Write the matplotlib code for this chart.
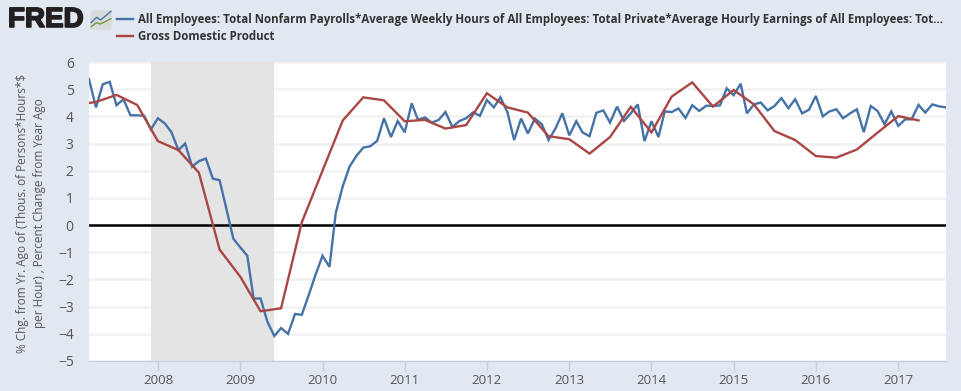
import pandas as pd
import matplotlib
matplotlib.use("Agg")
import matplotlib.pyplot as plt
import matplotlib.patheffects as pe
from matplotlib.patches import FancyBboxPatch

plt.rcParams['font.family'] = ['Open Sans', 'DejaVu Sans']

payroll_values = [5.37, 4.33, 5.18, 5.27, 4.41, 4.63, 4.04, 4.04, 4.02, 3.52,
                  3.93, 3.74, 3.42, 2.76, 3.00, 2.15, 2.35, 2.45, 1.71, 1.65,
                  0.57, -0.50, -0.82, -1.13, -2.70, -2.70, -3.55, -4.08, -3.79, -4.00,
                  -3.27, -3.30, -2.57, -1.83, -1.13, -1.54, 0.45, 1.43, 2.15, 2.55,
                  2.85, 2.90, 3.10, 3.93, 3.24, 3.83, 3.41, 4.48, 3.87, 3.96,
                  3.77, 3.87, 4.16, 3.61, 3.83, 3.93, 4.15, 4.02, 4.60, 4.33,
                  4.70, 4.16, 3.13, 3.92, 3.37, 3.92, 3.71, 3.13, 3.56, 4.11,
                  3.30, 3.82, 3.41, 3.27, 4.13, 4.22, 3.77, 4.36, 3.83, 4.11,
                  4.44, 3.09, 3.82, 3.24, 4.18, 4.16, 4.29, 3.94, 4.41, 4.20,
                  4.39, 4.39, 4.40, 5.03, 4.78, 5.20, 4.11, 4.44, 4.51, 4.22,
                  4.38, 4.67, 4.30, 4.63, 4.11, 4.24, 4.75, 4.00, 4.18, 4.26,
                  3.93, 4.11, 4.26, 3.42, 4.38, 4.20, 3.71, 4.18, 3.65, 3.89,
                  3.89, 4.42, 4.14, 4.44, 4.37, 4.33]
payroll_dates = pd.date_range("2007-03-01", periods=len(payroll_values), freq="MS")

gdp_values = [4.42, 4.53, 4.79, 4.42, 3.09, 2.76, 1.93, -0.90, -1.90, -3.17,
              -3.06, 0.10, 2.00, 3.85, 4.70, 4.59, 3.82, 3.87, 3.55, 3.68,
              4.85, 4.33, 4.14, 3.27, 3.16, 2.63, 3.24, 4.35, 3.41, 4.73,
              5.25, 4.36, 4.97, 4.44, 3.46, 3.13, 2.54, 2.48, 2.78, 3.40,
              4.01, 3.85]
gdp_dates = pd.date_range("2007-01-01", periods=len(gdp_values), freq="QS")

y_ticks = list(range(-5, 7))
year_ticks = list(range(2008, 2018))
recession_start, recession_end = pd.Timestamp("2007-12-01"), pd.Timestamp("2009-06-01")

legend_payroll = "All Employees: Total Nonfarm Payrolls*Average Weekly Hours of All Employees: Total Private*Average Hourly Earnings of All Employees: Tot..."
legend_gdp = "Gross Domestic Product"
y_title = "% Chg. from Yr. Ago of (Thous. of Persons*Hours*$\nper Hour) , Percent Change from Year Ago"

BG = "#E2E8F2"
BLUE = "#4572A7"
RED = "#AA4643"
W, H = 962, 391

fig = plt.figure(figsize=(W / 100, H / 100), dpi=100, facecolor=BG)
ax = fig.add_axes([89 / W, 1 - 361 / H, (946 - 89) / W, (361 - 62) / H])

ax.axvspan(recession_start, recession_end, color="#E4E4E4", lw=0, zorder=1)
ax.grid(axis='y', color="#F2F2F2", lw=2, zorder=0)
ax.axhline(0, color="black", lw=1.8, zorder=4)
ax.plot(payroll_dates, payroll_values, color=BLUE, lw=1.7, zorder=5, solid_joinstyle='miter')
ax.plot(gdp_dates, gdp_values, color=RED, lw=1.7, zorder=6, solid_joinstyle='miter')

ax.set_xlim(payroll_dates[0], payroll_dates[-1])
ax.set_ylim(-5, 6)
ax.set_yticks(y_ticks)
ax.set_xticks([pd.Timestamp(f"{y}-01-01") for y in year_ticks])
ax.set_xticklabels([str(y) for y in year_ticks])
ax.tick_params(axis='y', length=0, pad=11, labelsize=10, labelcolor="#555555")
ax.tick_params(axis='x', length=7, width=1, color="#C0D0E0", pad=2, labelsize=9.5, labelcolor="#555555")
for s in ['top', 'left', 'right']:
    ax.spines[s].set_visible(False)
ax.spines['bottom'].set_color("#C0D0E0")
ax.set_axisbelow(True)

fig.text(31 / W, 1 - 213 / H, y_title, rotation=90, ha='center', va='center',
         multialignment='center', fontsize=8.5, color="#555555", parse_math=False, linespacing=1.4)

# legend
fig.add_artist(plt.Line2D([117 / W, 133 / W], [1 - 19 / H] * 2, color=BLUE, lw=1.7))
fig.add_artist(plt.Line2D([117 / W, 133 / W], [1 - 36 / H] * 2, color=RED, lw=1.7))
fig.text(138 / W, 1 - 19 / H, legend_payroll, fontsize=8.3, fontweight='bold', color="#333333", va='center')
fig.text(138 / W, 1 - 36 / H, legend_gdp, fontsize=8.3, fontweight='bold', color="#333333", va='center')

# FRED logo
fig.text(8 / W, 1 - 20 / H, "FRED", fontsize=20, fontweight='bold', family=['Liberation Sans', 'DejaVu Sans'],
         color="#231F20", va='center', path_effects=[pe.withStroke(linewidth=1.2, foreground="#231F20")])
icon = fig.add_axes([90 / W, 1 - 30 / H, 22 / W, 20 / H])
icon.set_axis_off()
icon.set_xlim(0, 6)
icon.set_ylim(0, 6)
icon.add_patch(FancyBboxPatch((0.1, 0.1), 5.8, 5.8, boxstyle="round,pad=0,rounding_size=0.6", fc="#DADADA", ec="none"))
icon.plot([0.3, 1.8, 2.8, 4, 5.7], [2.2, 3.8, 3, 4, 5.6], color=BLUE, lw=1)
icon.plot([0.3, 1.8, 2.8, 4, 5.7], [1, 2.2, 1.8, 2.4, 3.4], color="#6E9B3A", lw=1)

fig.savefig("out.png", dpi=100, facecolor=BG)
